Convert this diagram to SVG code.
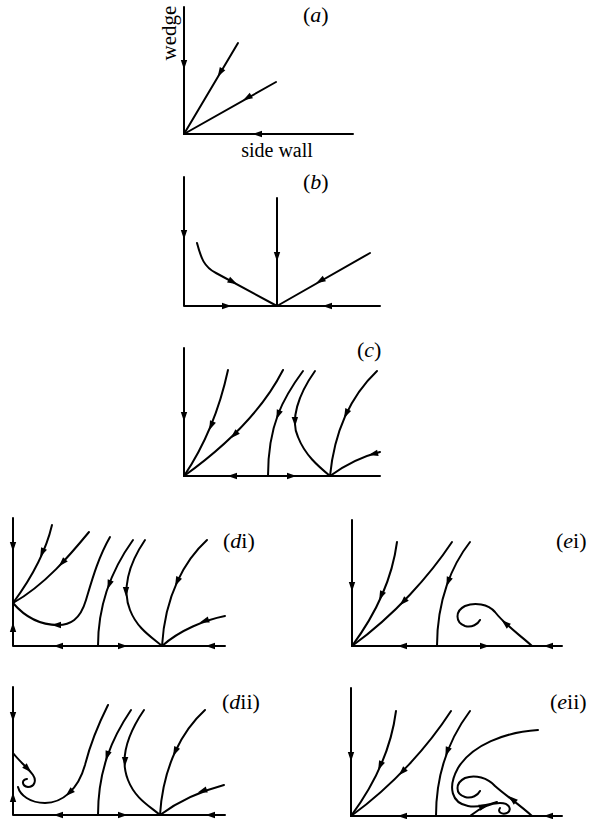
<svg xmlns="http://www.w3.org/2000/svg" width="590" height="819" viewBox="0 0 590 819">
<style>
.ln{fill:none;stroke:#000;stroke-width:2;stroke-linecap:round;stroke-linejoin:round}
.lbl{font-family:"Liberation Serif","Times New Roman",serif;font-size:20px;fill:#000}
.pl{font-size:22px}
.it{font-style:italic}
</style>
<defs>
<path id="ah" d="M4.5,0 L-5,-3.2 L-5,3.2 Z" fill="#000"/>
</defs>
<g id="panel-a">
<text class="lbl" transform="translate(176,33) rotate(-90)" text-anchor="middle" style="font-size:21px">wedge</text>
<text class="lbl" x="277" y="157" text-anchor="middle">side wall</text>
<text class="lbl pl" x="303" y="22">(<tspan class="it">a</tspan>)</text>
</g>
<g id="panel-b">
<text class="lbl pl" x="303" y="189">(<tspan class="it">b</tspan>)</text>
</g>
<g id="panel-c">
<text class="lbl pl" x="357" y="357">(<tspan class="it">c</tspan>)</text>
</g>
<g id="panel-di">
<text class="lbl pl" x="223" y="548">(<tspan class="it">d</tspan>i)</text>
</g>
<g id="panel-ei">
<text class="lbl pl" x="556" y="548">(<tspan class="it">e</tspan>i)</text>
</g>
<g id="panel-dii">
<text class="lbl pl" x="222" y="709">(<tspan class="it">d</tspan>ii)</text>
</g>
<g id="panel-eii">
<text class="lbl pl" x="550" y="709">(<tspan class="it">e</tspan>ii)</text>
</g>
<g id="connectors">
<!-- a -->
<path class="ln" d="M184,7 L184,134 L353,134"/>
<path class="ln" d="M184,134 L238,43"/>
<path class="ln" d="M184,134 L276,82"/>
<use href="#ah" transform="translate(184,65) rotate(90)"/>
<use href="#ah" transform="translate(220,73) rotate(121)"/>
<use href="#ah" transform="translate(247,98) rotate(150)"/>
<use href="#ah" transform="translate(257,134) rotate(180)"/>
<!-- b -->
<path class="ln" d="M184,177 L184,306 L380,306"/>
<path class="ln" d="M197,243 C201,258 204,267 216,273 L277,306"/>
<path class="ln" d="M277,198 L277,306"/>
<path class="ln" d="M370,253 L277,306"/>
<use href="#ah" transform="translate(184,235) rotate(90)"/>
<use href="#ah" transform="translate(233,282) rotate(28)"/>
<use href="#ah" transform="translate(277,257) rotate(90)"/>
<use href="#ah" transform="translate(320,281) rotate(150)"/>
<use href="#ah" transform="translate(227,306) rotate(0)"/>
<use href="#ah" transform="translate(327,306) rotate(180)"/>
<!-- c -->
<path class="ln" d="M184,348 L184,476 L380,476"/>
<path class="ln" d="M228,370 Q215,430 184,476"/>
<path class="ln" d="M283,370 Q255,425 184,476"/>
<path class="ln" d="M303,371 C283,398 268,425 268,476"/>
<path class="ln" d="M315,371 C298,395 290,420 298,437 C305,455 318,466 330,476"/>
<path class="ln" d="M377,371 C355,392 335,425 330,476"/>
<path class="ln" d="M380,452 C360,457 345,465 330,476"/>
<use href="#ah" transform="translate(184,417) rotate(90)"/>
<use href="#ah" transform="translate(211,426) rotate(113)"/>
<use href="#ah" transform="translate(234,435) rotate(136)"/>
<use href="#ah" transform="translate(278,415) rotate(111)"/>
<use href="#ah" transform="translate(295,422) rotate(88)"/>
<use href="#ah" transform="translate(346,414) rotate(116)"/>
<use href="#ah" transform="translate(373,454) rotate(166)"/>
<use href="#ah" transform="translate(232,476) rotate(180)"/>
<use href="#ah" transform="translate(292,476) rotate(0)"/>
<!-- di -->
<path class="ln" d="M13,518 L13,646 L225,646"/>
<path class="ln" d="M52,525 C45,555 30,580 13,603"/>
<path class="ln" d="M89,532 C70,555 45,585 13,603"/>
<path class="ln" d="M110,537 C98,558 92,580 86,600 C80,620 70,625 58,625 C40,625 25,617 13,603"/>
<path class="ln" d="M133,540 C115,565 98,600 98,646"/>
<path class="ln" d="M145,540 C128,565 122,590 130,610 C137,628 150,636 162,646"/>
<path class="ln" d="M207,540 C185,560 165,595 162,646"/>
<path class="ln" d="M225,616 C205,620 180,630 162,646"/>
<use href="#ah" transform="translate(13,547) rotate(90)"/>
<use href="#ah" transform="translate(13,627) rotate(270)"/>
<use href="#ah" transform="translate(58,646) rotate(180)"/>
<use href="#ah" transform="translate(123,646) rotate(0)"/>
<use href="#ah" transform="translate(210,646) rotate(180)"/>
<use href="#ah" transform="translate(42,553) rotate(114)"/>
<use href="#ah" transform="translate(62,563) rotate(133)"/>
<use href="#ah" transform="translate(56,625) rotate(180)"/>
<use href="#ah" transform="translate(109,585) rotate(110)"/>
<use href="#ah" transform="translate(126,592) rotate(90)"/>
<use href="#ah" transform="translate(177,582) rotate(115)"/>
<use href="#ah" transform="translate(204,621) rotate(162)"/>
<!-- ei -->
<path class="ln" d="M352,520 L352,646 L562,646"/>
<path class="ln" d="M397,542 C392,580 375,615 352,646"/>
<path class="ln" d="M452,542 C430,575 395,615 352,646"/>
<path class="ln" d="M470,542 C452,565 437,600 437,646"/>
<path class="ln" d="M532,646 C520,635 505,625 495,612 C488,604 475,602 465,606 C455,611 455,622 465,626 C472,628 478,624 480,620"/>
<use href="#ah" transform="translate(352,587) rotate(90)"/>
<use href="#ah" transform="translate(402,646) rotate(180)"/>
<use href="#ah" transform="translate(485,646) rotate(0)"/>
<use href="#ah" transform="translate(548,646) rotate(180)"/>
<use href="#ah" transform="translate(381,596) rotate(114)"/>
<use href="#ah" transform="translate(403,602) rotate(134)"/>
<use href="#ah" transform="translate(448,582) rotate(111)"/>
<use href="#ah" transform="translate(505,623) rotate(220)"/>
<!-- dii -->
<path class="ln" d="M13,687 L13,815 L225,815"/>
<path class="ln" d="M13,753 C20,762 28,768 33,775 C37,781 34,787 28,787 C22,786 21,780 27,779"/>
<path class="ln" d="M108,705 C98,725 90,745 85,765 C78,790 62,803 45,803 C30,803 20,795 18,787"/>
<path class="ln" d="M131,710 C112,738 98,770 98,815"/>
<path class="ln" d="M144,710 C127,735 120,760 128,780 C135,798 148,805 160,815"/>
<path class="ln" d="M205,710 C183,730 163,765 160,815"/>
<path class="ln" d="M224,785 C205,790 180,800 160,815"/>
<use href="#ah" transform="translate(13,717) rotate(90)"/>
<use href="#ah" transform="translate(13,797) rotate(270)"/>
<use href="#ah" transform="translate(58,815) rotate(180)"/>
<use href="#ah" transform="translate(123,815) rotate(0)"/>
<use href="#ah" transform="translate(210,815) rotate(180)"/>
<use href="#ah" transform="translate(28,769) rotate(45)"/>
<use href="#ah" transform="translate(69,793) rotate(138)"/>
<use href="#ah" transform="translate(107,756) rotate(109)"/>
<use href="#ah" transform="translate(125,762) rotate(91)"/>
<use href="#ah" transform="translate(175,752) rotate(115)"/>
<use href="#ah" transform="translate(202,791) rotate(162)"/>
<!-- eii -->
<path class="ln" d="M351,688 L351,816 L562,816"/>
<path class="ln" d="M396,711 C391,750 374,785 351,816"/>
<path class="ln" d="M451,711 C429,745 394,785 351,816"/>
<path class="ln" d="M470,711 C452,735 436,770 436,816"/>
<path class="ln" d="M538,730 C505,732 472,745 458,768 C447,788 452,803 468,806 C478,808 488,805 497,802"/>
<path class="ln" d="M532,816 C520,805 505,795 495,786 C488,778 475,774 465,778 C455,783 455,794 465,797 C472,799 478,795 480,791"/>
<path class="ln" d="M470,816 C480,808 490,803 500,803 C510,803 512,810 507,813 C502,815 497,812 500,808"/>
<use href="#ah" transform="translate(351,757) rotate(90)"/>
<use href="#ah" transform="translate(402,816) rotate(180)"/>
<use href="#ah" transform="translate(548,816) rotate(180)"/>
<use href="#ah" transform="translate(380,766) rotate(114)"/>
<use href="#ah" transform="translate(402,772) rotate(134)"/>
<use href="#ah" transform="translate(447,752) rotate(111)"/>
<use href="#ah" transform="translate(512,799) rotate(220)"/>
<use href="#ah" transform="translate(484,806) rotate(-20)"/>
</g>
</svg>
